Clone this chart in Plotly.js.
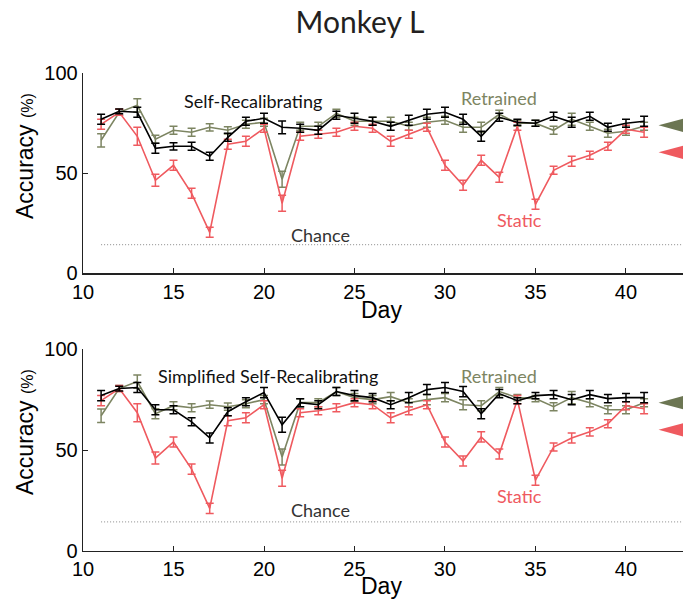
<!DOCTYPE html>
<html>
<head>
<meta charset="utf-8">
<script src="https://cdn.plot.ly/plotly-3.0.1.min.js"></script>
<style>
  html, body { margin: 0; padding: 0; background: #fff; }
  #chart { width: 683px; height: 601px; }
</style>
</head>
<body>
<div id="chart"></div>
<script>
// Recording days
const days = [11,12,13,14,15,16,17,18,19,20,21,22,23,24,25,26,27,28,29,30,31,32,33,34,35,36,37,38,39,40,41];

// Upper panel: accuracy (%) per day
const selfRecal    = [77,81,80.5,62.5,63.5,63.5,58.5,68,76,77.5,73,72.5,71.5,79,77.5,76,73.5,76.5,79.5,80.5,77,68.5,78,75.5,75,78.5,75.5,78.5,73,75,76];
const selfRecalErr = [2.5,1.2,2.5,2.5,1.8,2,2,2,2,2.5,3.2,2,2,2,2.5,2,2,2.5,2.5,2.5,2.5,2.5,2,1.5,1.5,2,2.5,2,2,2,2.5];
const retrainedA    = [66.5,80.5,84,67,71.5,70.5,73,71.5,74.5,75.5,47,73.5,73.5,80,76,76,76,73.5,75.5,76.5,73,73,79.5,75,75,71.5,77,73.5,70,71,73.5];
const retrainedAErr = [3.3,1.5,3.3,2,2,2,1.8,1.8,2,2,4,2,2,2,2,2,2,2,2.5,2,2.5,2.5,2,1.5,1.5,2,3,2,2,2,2];
const staticA    = [74.5,80.5,68.5,46.5,54,40,20.5,64.5,66,72.5,35,68.5,69.5,70.5,73.5,72.5,66,69.5,73,54,44,56.5,48,73.5,34.5,51.5,56,59,63.5,72,70.5];
const staticAErr = [2.5,1.5,4.5,3,2.5,2.5,2.5,2.5,2.5,2,4,2,2,2,2,2,2.5,2,2,2.5,2.5,2.5,2.5,2,2.5,2,2.5,2,2,2,2.5];

// Lower panel: accuracy (%) per day
const simpRecal    = [77,80.5,81,70,70,64,56,69,74,78.5,62.5,73.5,72.5,79,77,76,72.5,76,80,81,79,68,78,74.5,77,77.5,75,77.5,75.5,76,76];
const simpRecalErr = [2.5,1.2,2.5,2.5,2,2,2.5,2,2,2.5,3.7,2,2,2,2.5,2,2,2.5,2.5,2.5,2.5,2.5,2,1.5,1.5,2,2.5,2,2,2,2.5];
const retrainedB    = [67,80.5,84,68,72,71,72.5,71.5,73,75,46.5,73.5,73.5,79,76,75,76.5,73.5,75,76,72.5,72,79,76,75.5,71.5,76,73.5,70,70,73.5];
const retrainedBErr = [3.3,1.5,3.3,2.5,2,2,1.8,1.8,2,2,4,2,2,2,2,2,2,2,2.5,2,2.5,2.5,2,1.5,1.5,2,3,2,2,2,2];
const staticB    = [74.5,80.5,68.5,46,54,40.5,21,64.5,66,72.5,36,68.5,69.5,71,73.5,72.5,66,69.5,72.5,54,44.5,56.5,48,75,35,51.5,56,59,63,72,70.5];
const staticBErr = [2.5,1.5,4.5,3,2.5,2.5,2.5,2.5,2.5,2,4,2,2,2,2,2,2.5,2,2,2.5,2.5,2.5,2.5,2,2.5,2,2.5,2,2,2,2.5];

// Summary levels marked at the right edge of each panel
const retrainedLevel = [74, 73.5];
const staticLevel    = [60.5, 60];

// Chance level (%)
const chance = 14.3;

const xTicks = [10,15,20,25,30,35,40];
const yTicks = [0,50,100];

const GREEN = '#7d8562';
const GREEN_DARK = '#6c7653';
const RED = '#ef5a5f';
const BLACK = '#000000';
const X_END = 43.15;

function series(x, y, err, color, xa, ya) {
  return {
    type: 'scatter', mode: 'lines', x: x, y: y,
    xaxis: xa, yaxis: ya,
    line: {color: color, width: 1.6},
    error_y: {type: 'data', array: err, visible: true, color: color, thickness: 1.5, width: 4},
    showlegend: false, hoverinfo: 'skip'
  };
}
function chanceLine(xa, ya) {
  return {
    type: 'scatter', mode: 'lines',
    x: [days[0], X_END], y: [chance, chance],
    xaxis: xa, yaxis: ya,
    line: {color: '#8a8a8a', width: 1, dash: '1px,2px'},
    showlegend: false, hoverinfo: 'skip'
  };
}

const traces = [
  chanceLine('x', 'y'),
  series(days, retrainedA, retrainedAErr, GREEN, 'x', 'y'),
  series(days, staticA, staticAErr, RED, 'x', 'y'),
  series(days, selfRecal, selfRecalErr, BLACK, 'x', 'y'),
  chanceLine('x2', 'y2'),
  series(days, retrainedB, retrainedBErr, GREEN, 'x2', 'y2'),
  series(days, staticB, staticBErr, RED, 'x2', 'y2'),
  series(days, simpRecal, simpRecalErr, BLACK, 'x2', 'y2')
];

// Left-pointing level markers built from the summary values
function levelTriangle(v, color, xa, ya) {
  const tip = 41.8, base = X_END, h = 3.3;
  return {
    type: 'path', xref: xa, yref: ya,
    path: 'M ' + tip + ' ' + v + ' L ' + base + ' ' + (v + h) + ' L ' + base + ' ' + (v - h) + ' Z',
    fillcolor: color, line: {width: 0}, layer: 'above'
  };
}
const shapes = [
  levelTriangle(retrainedLevel[0], GREEN_DARK, 'x', 'y'),
  levelTriangle(staticLevel[0], RED, 'x', 'y'),
  levelTriangle(retrainedLevel[1], GREEN_DARK, 'x2', 'y2'),
  levelTriangle(staticLevel[1], RED, 'x2', 'y2')
];

const LABEL_FONT = 'Lato, "Open Sans", sans-serif';
const NUM_FONT = '"Liberation Sans", Arial, sans-serif';

function txt(text, x, y, color, xa, ya) {
  return {text: text, x: x, y: y, xref: xa, yref: ya, showarrow: false,
          font: {family: LABEL_FONT, size: 18, color: color}, xanchor: 'center', yanchor: 'middle'};
}
const yTitle = 'Accuracy <span style="font-size:16px">(%)</span>';
const annotations = [
  txt('Self-Recalibrating', 19.4, 86, '#111', 'x', 'y'),
  txt('Retrained', 33, 87.6, GREEN, 'x', 'y'),
  txt('Static', 34.1, 26.6, RED, 'x', 'y'),
  txt('Chance', 23.1, 19.2, '#333', 'x', 'y'),
  txt('Simplified Self-Recalibrating', 20.2, 86.9, '#111', 'x2', 'y2'),
  txt('Retrained', 33, 86.9, GREEN, 'x2', 'y2'),
  txt('Static', 34.1, 27.2, RED, 'x2', 'y2'),
  txt('Chance', 23.1, 20.2, '#333', 'x2', 'y2'),
  // axis titles (positions given in pixels, converted below)
  {text: yTitle, x: 25, y: 156, xref: 'paper', yref: 'paper',
   showarrow: false, textangle: -90, font: {family: NUM_FONT, size: 23, color: '#000'}},
  {text: yTitle, x: 25, y: 432, xref: 'paper', yref: 'paper',
   showarrow: false, textangle: -90, font: {family: NUM_FONT, size: 23, color: '#000'}},
  {text: 'Day', x: 381, y: 310, xref: 'paper', yref: 'paper', showarrow: false,
   font: {family: NUM_FONT, size: 23, color: '#000'}},
  {text: 'Day', x: 381, y: 586, xref: 'paper', yref: 'paper', showarrow: false,
   font: {family: NUM_FONT, size: 23, color: '#000'}}
];

const W = 683, H = 601;
annotations.forEach(a => {
  if (a.xref === 'paper') {
    a.x = a.x / W;
    a.y = 1 - a.y / H;
    a.xanchor = 'center'; a.yanchor = 'middle';
  }
});

function xAxis(anchor) {
  return {
    anchor: anchor, domain: [83 / W, 1], range: [10, X_END],
    tickvals: xTicks, ticks: 'inside', ticklen: 5, tickwidth: 1, tickcolor: '#222',
    showline: true, linecolor: '#222', linewidth: 1.3, showgrid: false, zeroline: false,
    tickfont: {family: NUM_FONT, size: 20, color: '#000'}
  };
}
function yAxis(anchor, top, bottom) {
  return {
    anchor: anchor, domain: [1 - bottom / H, 1 - top / H], range: [0, 100],
    tickvals: yTicks, ticks: 'inside', ticklen: 5, tickwidth: 1, tickcolor: '#222',
    showline: true, linecolor: '#222', linewidth: 1.3, showgrid: false, zeroline: false,
    tickfont: {family: NUM_FONT, size: 20, color: '#000'}
  };
}

const layout = {
  width: W, height: H,
  margin: {l: 0, r: 0, t: 0, b: 0},
  paper_bgcolor: '#fff', plot_bgcolor: 'rgba(0,0,0,0)',
  title: {text: 'Monkey L', x: 360 / W, xanchor: 'center', y: 1 - 22 / H, yanchor: 'middle',
          font: {family: LABEL_FONT, size: 30, color: '#231f20'}},
  xaxis: xAxis('y'),
  yaxis: yAxis('x', 73.3, 273.3),
  xaxis2: xAxis('y2'),
  yaxis2: yAxis('x2', 349.3, 550.7),
  shapes: shapes,
  annotations: annotations
};

Plotly.newPlot('chart', traces, layout, {displayModeBar: false, staticPlot: true});
</script>
</body>
</html>
